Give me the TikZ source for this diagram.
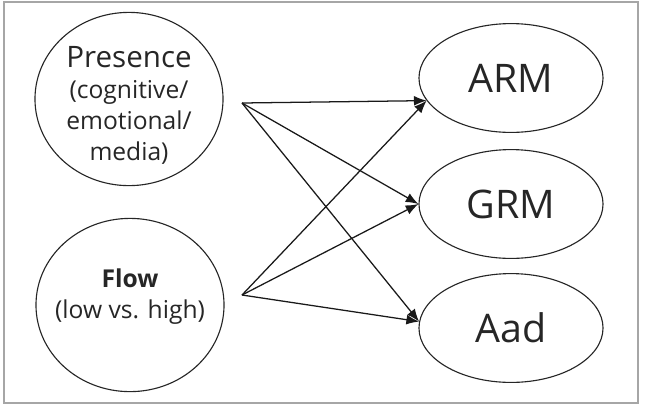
\documentclass[tikz,border=0pt]{standalone}
\usepackage{fontspec}
\setmainfont{Open Sans}
\usepackage{xcolor}
\usepackage{tikz}
\usetikzlibrary{shapes.geometric,arrows.meta,positioning,calc}

\begin{document}
\begin{tikzpicture}[
    x=0.025cm, y=-0.025cm,
    factor/.style={ellipse, draw=black!85, line width=0.8pt, minimum width=4.7cm, minimum height=4.33cm, inner sep=0pt},
    outcome/.style={ellipse, draw=black!85, line width=0.8pt, minimum width=4.6cm, minimum height=2.72cm, inner sep=0pt, font=\fontsize{28}{30}\selectfont, text=black!85},
    txt/.style={align=center, text=black!85, inner sep=0pt, font=\fontsize{17.5}{22}\selectfont},
    arr/.style={-{Latex[length=9pt,width=7pt]}, line width=0.9pt, color=black!90}
]
    % frame and page size
    \useasboundingbox (0,0) rectangle (649,404);
    \draw[gray!70, line width=1pt] (4,2) rectangle (638,403);

    % left side: the two factors
    \node[factor] (presence) at (129,99) {};
    \node[txt] at ([yshift=-0.15cm]presence) {{\fontsize{21}{22}\selectfont Presence}\\(cognitive/\\emotional/\\media)};

    \node[factor] (flow) at (130,305) {};
    \node[txt] at ([yshift=0.2cm]flow) {\textbf{Flow}\\(low vs. high)};

    % right side: the outcomes
    \node[outcome] (arm) at (511,78) {ARM};
    \node[outcome] (grm) at (511,204) {GRM};
    \node[outcome] (aad) at (511,328) {Aad};

    % where the arrows start
    \coordinate (pstart) at (242,103);
    \coordinate (fstart) at (242,295);

    % Connections
    \draw[arr] (pstart) -- (arm.195);
    \draw[arr] (pstart) -- (grm.west);
    \draw[arr] (pstart) -- (aad.176);
    \draw[arr] (fstart) -- (arm.195);
    \draw[arr] (fstart) -- (grm.west);
    \draw[arr] (fstart) -- (aad.176);

\end{tikzpicture}
\end{document}
